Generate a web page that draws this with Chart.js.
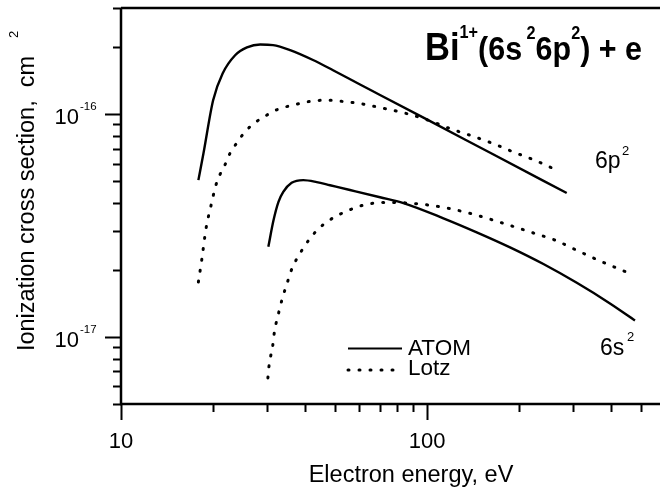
<!DOCTYPE html>
<html>
<head>
<meta charset="utf-8">
<script src="https://cdn.jsdelivr.net/npm/chart.js@4.4.1/dist/chart.umd.min.js"></script>
<style>
html,body{margin:0;padding:0;background:#fff;}
#wrap{width:660px;height:491px;position:relative;}
</style>
</head>
<body>
<div id="wrap"><canvas id="c" width="660" height="491"></canvas></div>
<script>
// ---- Data ----
// 6p^2 ionization, ATOM calculation
const atom6pEnergy = [17.9, 18.6, 20.0, 21.5, 23.6, 25.8, 28.5, 31.4, 35.7, 42.4, 49.3, 60.4, 70.2, 99.8, 164.3, 286];
const atom6pSigma  = [5.06e-17, 6.68e-17, 1.156e-16, 1.527e-16, 1.84e-16, 1.995e-16, 2.058e-16, 2.045e-16, 1.942e-16, 1.753e-16, 1.576e-16, 1.36e-16, 1.221e-16, 9.48e-17, 6.61e-17, 4.43e-17];
// 6p^2 ionization, Lotz formula
const lotz6pEnergy = [17.9, 18.35, 18.96, 19.64, 20.4, 21.06, 21.9, 22.7, 23.9, 25.4, 27.6, 29.9, 32.4, 35.2, 38.2, 41.5, 45.3, 48.8, 52.6, 57.4, 61.9, 72.9, 85.8, 101, 118.9, 140, 164.7, 191.4, 225.4, 265.4];
const lotz6pSigma  = [1.765e-17, 2.21e-17, 3.07e-17, 3.84e-17, 4.78e-17, 5.36e-17, 5.96e-17, 6.67e-17, 7.43e-17, 8.33e-17, 9.23e-17, 9.9e-17, 1.05e-16, 1.087e-16, 1.117e-16, 1.143e-16, 1.155e-16, 1.155e-16, 1.143e-16, 1.128e-16, 1.11e-16, 1.06e-16, 1.007e-16, 9.4e-17, 8.62e-17, 8.0e-17, 7.38e-17, 6.77e-17, 6.21e-17, 5.61e-17];
// 6s^2 ionization, ATOM calculation
const atom6sEnergy = [30.3, 31.5, 32.7, 33.9, 36.1, 39.4, 43.6, 48.2, 56.0, 70.2, 83.7, 113.1, 145.3, 186.7, 240, 308.5, 396, 478];
const atom6sSigma  = [2.54e-17, 3.34e-17, 4.04e-17, 4.48e-17, 4.92e-17, 5.06e-17, 4.96e-17, 4.80e-17, 4.57e-17, 4.24e-17, 3.99e-17, 3.41e-17, 2.95e-17, 2.525e-17, 2.125e-17, 1.75e-17, 1.415e-17, 1.186e-17];
// 6s^2 ionization, Lotz formula
const lotz6sEnergy = [30.2, 30.4, 30.8, 31.3, 31.6, 32.1, 32.7, 33.3, 34.1, 35.0, 35.9, 37.3, 39.0, 41.3, 44.1, 47.9, 52.0, 56.4, 61.2, 72.0, 84.8, 99.8, 117.4, 138.2, 160.7, 189.2, 222.6, 262, 308.5, 362.9, 427.3, 466.6];
const lotz6sSigma  = [6.55e-18, 7.26e-18, 8.13e-18, 9.08e-18, 1.018e-17, 1.148e-17, 1.273e-17, 1.41e-17, 1.58e-17, 1.765e-17, 1.97e-17, 2.21e-17, 2.45e-17, 2.75e-17, 3.05e-17, 3.34e-17, 3.56e-17, 3.74e-17, 3.89e-17, 4.02e-17, 4.0e-17, 3.92e-17, 3.78e-17, 3.59e-17, 3.38e-17, 3.15e-17, 2.93e-17, 2.72e-17, 2.45e-17, 2.21e-17, 2.01e-17, 1.91e-17];

// Axis ranges and tick labels
const xMin = 10, xMax = 577;
const yMin = 5e-18, yMax = 3e-16;
const xMajorTicks = [10, 100];
const xTickLabels = ['10', '100'];
const yMajorTicks = [1e-17, 1e-16];
const yTickExponents = ['-17', '-16'];
const xTitle = 'Electron energy, eV';
const yTitle = 'Ionization cross section,  cm';
const legendLabels = ['ATOM', 'Lotz'];

function pts(xs, ys) { return xs.map((x, i) => ({x: x, y: ys[i]})); }

const FONT = '"Liberation Sans", Arial, Helvetica, sans-serif';
const DOT = [1, 10];

function minorTicks(min, max) {
  const out = [];
  for (let e = Math.floor(Math.log10(min)); e <= Math.ceil(Math.log10(max)); e++) {
    for (let m = 1; m <= 9; m++) {
      const v = m * Math.pow(10, e);
      if (v >= min * 0.9999 && v <= max * 1.0001) out.push({v: v, major: m === 1});
    }
  }
  return out;
}

const decor = {
  id: 'decor',
  afterDraw(chart) {
    const ctx = chart.ctx;
    const a = chart.chartArea;
    const xs = chart.scales.x, ys = chart.scales.y;
    ctx.save();
    ctx.strokeStyle = '#000';
    ctx.fillStyle = '#000';
    ctx.lineCap = 'butt';
    // frame: top, left, bottom
    ctx.lineWidth = 2.5;
    ctx.beginPath();
    ctx.moveTo(a.left, a.top); ctx.lineTo(a.right, a.top);
    ctx.moveTo(a.left, a.top); ctx.lineTo(a.left, a.bottom);
    ctx.moveTo(a.left - 1, a.bottom); ctx.lineTo(a.right, a.bottom);
    ctx.stroke();
    // ticks
    ctx.lineWidth = 2;
    ctx.beginPath();
    minorTicks(xMin, xMax).forEach(t => {
      const px = Math.round(xs.getPixelForValue(t.v)) + 0.5;
      ctx.moveTo(px, a.bottom); ctx.lineTo(px, a.bottom + (t.major ? 16 : 8));
    });
    minorTicks(yMin, yMax).forEach(t => {
      const py = Math.round(ys.getPixelForValue(t.v)) + 0.5;
      ctx.moveTo(a.left, py); ctx.lineTo(a.left - (t.major ? 16 : 8), py);
    });
    ctx.stroke();

    // x tick labels
    ctx.font = '22px ' + FONT;
    ctx.textAlign = 'center';
    ctx.textBaseline = 'alphabetic';
    xMajorTicks.forEach((v, i) => {
      ctx.fillText(xTickLabels[i], xs.getPixelForValue(v), 448);
    });
    // y tick labels 10^exp
    yMajorTicks.forEach((v, i) => {
      const py = ys.getPixelForValue(v);
      ctx.font = '22px ' + FONT;
      ctx.textAlign = 'right';
      ctx.fillText('10', 79, py + 10);
      ctx.font = '11.5px ' + FONT;
      ctx.textAlign = 'left';
      ctx.fillText(yTickExponents[i], 80, py - 4);
    });
    // x title
    ctx.font = '23.5px ' + FONT;
    ctx.textAlign = 'center';
    ctx.fillText(xTitle, 411, 482);
    // y title (rotated)
    ctx.save();
    ctx.translate(33.5, 203.5);
    ctx.rotate(-Math.PI / 2);
    ctx.font = '23.5px ' + FONT;
    ctx.textAlign = 'center';
    ctx.fillText(yTitle, 0, 0);
    const w = ctx.measureText(yTitle).width;
    ctx.font = '13px ' + FONT;
    ctx.textAlign = 'left';
    ctx.fillText('2', w / 2 + 18, -15.5);
    ctx.restore();

    // Title inside plot: Bi^{1+}(6s^2 6p^2) + e
    const sy = 1.12;
    const segs = [
      {t: 'Bi', f: 'bold 34px ', dy: 0},
      {t: '1+', f: 'bold 16px ', dy: -22 / sy},
      {t: '(6s', f: 'bold 30px ', dy: 0},
      {t: ' ', f: 'bold 16px ', dy: 0},
      {t: '2', f: 'bold 16px ', dy: -21 / sy},
      {t: '6p', f: 'bold 30px ', dy: 0},
      {t: '2', f: 'bold 16px ', dy: -21 / sy},
      {t: ') + e', f: 'bold 30px ', dy: 0}
    ];
    let W = 0;
    segs.forEach(s => { ctx.font = s.f + FONT; s.w = ctx.measureText(s.t).width; W += s.w; });
    const sx = 217 / W;
    ctx.save();
    ctx.translate(425, 60);
    ctx.scale(sx, sy);
    ctx.textAlign = 'left';
    let cx = 0;
    segs.forEach(s => { ctx.font = s.f + FONT; ctx.fillText(s.t, cx, s.dy); cx += s.w; });
    ctx.restore();

    // curve annotations
    ctx.textAlign = 'left';
    ctx.font = '23px ' + FONT;
    ctx.fillText('6p', 595, 168);
    ctx.fillText('6s', 600, 355);
    ctx.font = '13px ' + FONT;
    ctx.fillText('2', 622, 155);
    ctx.fillText('2', 627, 341);

    // legend
    ctx.lineWidth = 2.2;
    ctx.beginPath();
    ctx.moveTo(348, 348.5); ctx.lineTo(402, 348.5);
    ctx.stroke();
    ctx.save();
    ctx.lineWidth = 3;
    ctx.lineCap = 'round';
    ctx.setLineDash(DOT);
    ctx.beginPath();
    ctx.moveTo(348, 370); ctx.lineTo(400, 370);
    ctx.stroke();
    ctx.restore();
    ctx.font = '22.5px ' + FONT;
    ctx.fillText(legendLabels[0], 408, 355);
    ctx.fillText(legendLabels[1], 408, 375);
    ctx.restore();
  }
};

function solid(label, data) {
  return {label: label, data: data, borderColor: '#000', borderWidth: 2.4, pointRadius: 0,
          cubicInterpolationMode: 'monotone', fill: false};
}
function dotted(label, data) {
  return {label: label, data: data, borderColor: '#000', borderWidth: 3, pointRadius: 0,
          borderDash: DOT, borderCapStyle: 'round', cubicInterpolationMode: 'monotone', fill: false};
}

new Chart(document.getElementById('c'), {
  type: 'line',
  data: {
    datasets: [
      solid('ATOM 6p2', pts(atom6pEnergy, atom6pSigma)),
      dotted('Lotz 6p2', pts(lotz6pEnergy, lotz6pSigma)),
      solid('ATOM 6s2', pts(atom6sEnergy, atom6sSigma)),
      dotted('Lotz 6s2', pts(lotz6sEnergy, lotz6sSigma))
    ]
  },
  options: {
    responsive: false,
    devicePixelRatio: 1,
    animation: false,
    layout: {padding: {left: 121, top: 8, right: 0, bottom: 87}},
    scales: {
      x: {type: 'logarithmic', min: xMin, max: xMax, display: false},
      y: {type: 'logarithmic', min: yMin, max: yMax, display: false}
    },
    plugins: {legend: {display: false}, tooltip: {enabled: false}},
    elements: {line: {tension: 0}}
  },
  plugins: [decor]
});
</script>
</body>
</html>
